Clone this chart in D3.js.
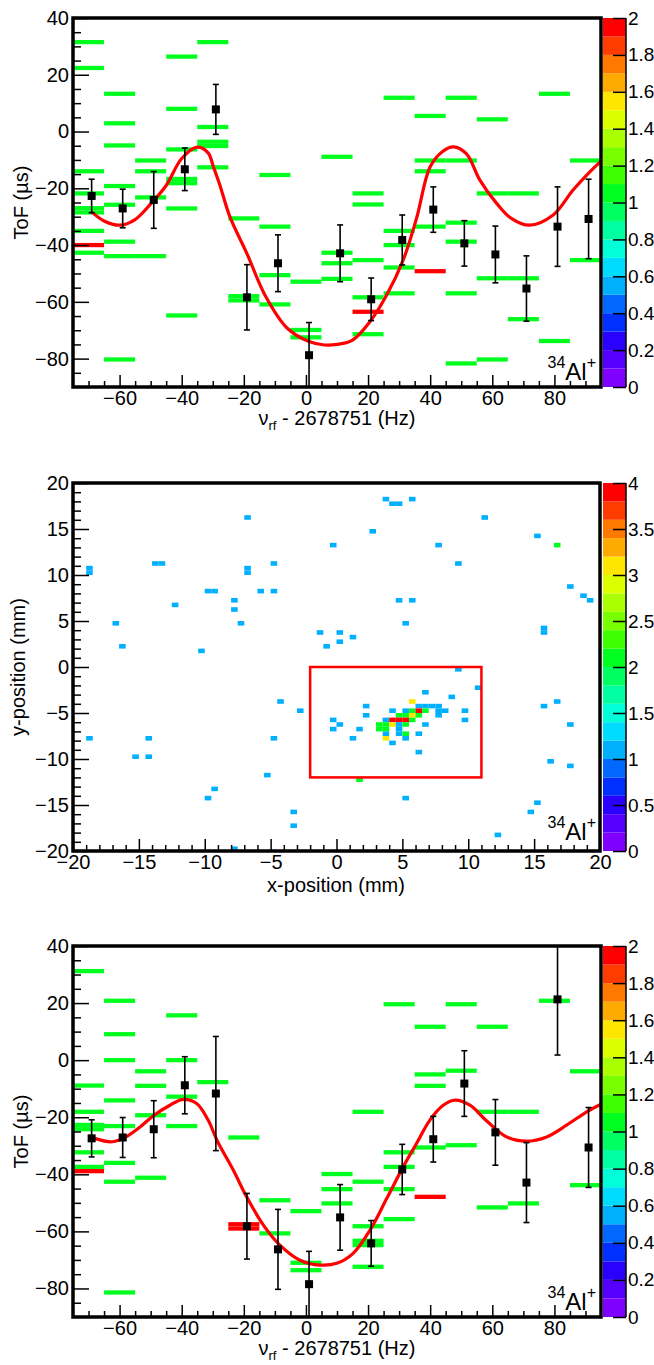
<!DOCTYPE html>
<html>
<head>
<meta charset="utf-8">
<script src="https://cdn.jsdelivr.net/npm/d3@7"></script>
<style>
  body { margin: 0; background: #fff; }
  text { font-family: "Liberation Sans", Arial, sans-serif; fill: #000; }
</style>
</head>
<body>
<svg id="chart" width="654" height="1365"></svg>
<script>
// ---- colour palette (20 contour levels, bottom to top)
var palette = ['#7f00ff','#5500ff','#2a00ff','#0030ff','#0068ff','#00b0ff','#00dcff','#00ffd8','#00ffa0','#00ff60',
               '#00ff1e','#3cff00','#78ff00','#aaff00','#dcff00','#ffe600','#ffaa00','#ff7800','#ff3c00','#ff0000'];

// ---- ToF resonance panels: 10 Hz bins, each with its list of ToF cells (z = 1)
var binCentres = [-70,-60,-50,-40,-30,-20,-10,0,10,20,30,40,50,60,70,80,90];

var topGreen = [
  [31.5,22.4,-14,-21.8,-27,-28.5,-35,-42.7],
  [13.3,2.9,-4.9,-19.2,-25.8,-38.8,-43.9,-80.3],
  [-10.2,-14,-23.2,-43.9],
  [26.4,8,-6.3,-16.7,-18.2,-27.1,-64.8],
  [31.5,1.6,-3.6,-5.1,-12.6],
  [-30.6,-58,-59.5],
  [-15.3,-33.5,-50.6,-60.9],
  [-52.9,-69.9,-72.5],
  [-8.9,-42.7,-46.4,-51.9],
  [-21.8,-25.7,-45.3,-58.4,-71.4],
  [11.9,-35,-40,-47.9,-57],
  [5.5,-10.2,-14,-33.5],
  [11.9,-10.2,-32.1,-38.8,-57,-81.7],
  [4.3,-21.8,-51.7,-80.3],
  [-21.8,-51.7,-66.1],
  [13.3,-73.8],
  [-10.2,-45.3]
];
var topRed = [[-70,-40],[20,-63.5],[40,-49.2]];   // z = 2

var botGreen = [
  [31.2,-8.9,-18.1,-22.7,-24.2,-32.3,-37.4],
  [20.8,9.1,0,-14.1,-23.1,-36,-42.6,-81.4],
  [-3.9,-9,-19.3,-41.2],
  [15.7,0,-12.8,-23.1],
  [-7.7],
  [-27.1],
  [-49.1,-60.7],
  [-52.9,-71,-73.6],
  [-39.9,-45.2,-50.2],
  [-18.1,-42.6,-58.2,-63.3,-64.8,-72.4],
  [19.6,-32.3,-37.4,-45.2,-55.7],
  [11.7,-5,-9,-30.6],
  [19.6,-3.7,-29.8],
  [11.7,-18.1,-51.6],
  [-18.1,-50.2],
  [20.8],
  [-3.9,-43.8]
];
var botRed = [[-70,-38.9],[-20,-57.5],[-20,-59],[40,-47.9]];

// mean ToF per frequency step
var pointNu = [-69,-59,-49,-39,-29,-19,-9,1,11,21,31,41,51,61,71,81,91];
var topTof = [-22.7,-27.1,-24.1,-13.3,7.8,-58.4,-46.4,-78.8,-42.9,-59.1,-38.2,-27.5,-39.4,-43.3,-55.3,-33.5,-30.8];
var topErr = [5.9,6.8,10,7.5,8.8,11.5,10,11.5,10,7.5,8.8,8,8,10,11.5,14,14];
var botTof = [-27.4,-27.1,-24.2,-8.8,-11.7,-58.2,-66.3,-78.5,-55.1,-64.2,-38.3,-27.7,-8.2,-25.3,-42.9,21.3,-30.6];
var botErr = [6.5,7,10,10,20,11.5,14,11.5,11.5,8,8.8,8,11.5,11.5,14,19.5,14];

// fitted line shape
var topFitNu  = [-69,-65,-60,-55,-50,-45,-40,-35,-31.5,-29.8,-27.7,-24.5,-19,-13,-6,1,6,10,15,20.6,26,31.3,35.6,40,44,47.5,51.7,56,61.4,66,72,79.6,86,91.4,95];
var topFitTof = [-28.3,-31.5,-33,-31,-25.5,-19,-9.5,-5.5,-7.5,-12.4,-18.9,-30,-43,-58,-69.3,-74,-75.2,-75,-73.5,-67,-57.6,-45.3,-30.6,-12.4,-7,-5.4,-7.9,-17.1,-25.3,-30.5,-33,-29.4,-20.6,-14.2,-10.4];
var botFitNu  = [-68,-62.6,-58.8,-53.4,-48.9,-43.8,-39.8,-35.2,-31.5,-28.5,-23.4,-19.1,-13.7,-8.4,-1.9,4.5,9.9,15.2,20.6,26,31.3,35.6,39.9,44.2,48,52.8,58.2,64.6,71.1,77.5,83.9,90.4,95];
var botFitTof = [-27.4,-28.6,-27.4,-23.4,-19.3,-15.8,-13.8,-15.2,-21,-28.4,-38.5,-47.9,-57.8,-64.8,-70.1,-71.8,-71.2,-67.7,-59.6,-48.5,-37.4,-29.2,-21,-15.8,-14,-15.8,-21.3,-26.9,-28.4,-26.9,-22.8,-18.1,-15.4];

// ---- position panel: [x mm, y mm, counts]
var posCells = [
  [-18.75,10.75,1],[-18.75,10.25,1],[-16.75,4.75,1],[-16.25,2.25,1],[-13.75,11.25,1],[-13.25,11.25,1],
  [-12.25,6.75,1],[-10.25,1.75,1],[-9.75,8.25,1],[-9.25,8.25,1],[-7.75,7.25,1],[-7.75,6.25,1],
  [-7.25,4.75,1],[-6.75,16.25,1],[-6.75,10.75,1],[-6.75,10.25,1],[-5.75,8.25,1],[-4.75,11.25,1],
  [-4.75,8.25,1],[-1.25,3.75,1],[-0.75,2.25,1],
  [3.75,18.25,1],[4.25,17.75,1],[4.75,17.75,1],[5.75,18.25,1],[11.25,16.25,1],[2.75,14.75,1],
  [15.25,14.25,1],[16.75,13.25,2],[-0.25,13.25,1],[7.75,13.25,1],[9.25,11.25,1],[17.75,8.75,1],
  [18.75,7.75,1],[19.25,7.25,1],[4.75,7.25,1],[5.75,7.25,1],[5.25,4.75,1],[0.25,3.75,1],
  [0.25,2.75,1],[1.25,3.25,1],[15.75,4.25,1],[15.75,3.75,1],[9.25,-0.25,1],
  [-18.75,-7.75,1],[-15.25,-9.75,1],[-14.25,-9.75,1],[-14.25,-7.75,1],[-9.75,-14.25,1],[-9.25,-13.25,1],
  [-7.75,-19.75,1],[-5.25,-11.75,1],[-4.75,-7.75,1],[-4.25,-3.75,1],[-2.75,-4.75,1],
  [-3.25,-15.75,1],[-3.25,-17.25,1],
  [10.75,-2.25,1],[6.75,-2.75,1],[8.75,-3.25,1],[5.75,-3.75,3],[2.25,-4.25,1],[2.25,-5.25,1],
  [-0.25,-5.75,1],[0.25,-6.25,1],[-0.25,-6.75,1],[1.75,-6.75,1],[1.25,-7.75,1],
  [4.25,-4.75,1],[5.25,-4.75,1],[6.25,-4.25,1],[6.75,-4.25,1],[7.25,-4.25,1],[7.75,-4.25,1],
  [5.75,-4.75,2],[6.25,-4.75,4],[6.75,-4.75,2],[7.75,-4.75,1],[8.25,-4.75,1],[7.75,-5.25,1],
  [9.75,-4.75,1],[9.75,-5.75,1],
  [4.75,-5.25,2],[5.25,-5.25,2],[5.75,-5.25,3],[6.25,-5.25,2],
  [3.75,-5.75,1],[4.25,-5.75,4],[4.75,-5.75,4],[5.25,-5.75,4],[5.75,-5.75,2],
  [3.25,-6.25,2],[3.75,-6.25,2],[4.25,-6.25,3],[4.75,-6.25,1],[5.25,-6.25,2],[6.75,-6.25,1],
  [3.25,-6.75,2],[3.75,-6.75,2],[4.75,-6.75,1],
  [3.75,-7.25,1],[4.75,-7.25,1],[5.25,-7.25,2],[6.25,-7.25,1],[3.75,-7.75,3],[5.25,-7.75,1],
  [4.25,-8.25,1],[6.25,-9.25,1],[1.75,-12.25,2],[5.25,-14.25,1],
  [15.75,-4.25,1],[16.75,-3.75,1],[17.75,-6.25,1],[16.25,-10.25,1],[17.75,-10.75,1],
  [15.25,-14.75,1],[14.75,-15.75,1],[12.25,-18.25,1]
];
var boxX = [-2, 11], boxY = [-12, 0];

var tofBin = 1.5, posBin = 0.5;
var svg = d3.select('#chart');

function cleanAxis(g, size){
  g.select('.domain').remove();
  g.attr('font-size', null).attr('font-family', null);
  g.selectAll('text').attr('font-size', size);
  g.selectAll('line').attr('stroke-width', 1.5);
}

function colourBar(top, bottom, max, step){
  var y = d3.scaleLinear().domain([0, max]).range([bottom, top]);
  var n = palette.length;
  var cb = svg.append('g');
  cb.selectAll('rect').data(palette).join('rect')
    .attr('x', 603).attr('width', 23)
    .attr('y', (d,i) => y((i+1)*max/n))
    .attr('height', (d,i) => y(i*max/n) - y((i+1)*max/n))
    .attr('fill', d => d);
  cb.append('g').attr('transform', 'translate(626,0)')
    .call(d3.axisRight(y).tickValues(d3.range(0, max + step/2, step)).tickSize(-13).tickPadding(2).tickFormat(d3.format('~g')))
    .call(g => cleanAxis(g, 19));
  cb.append('line').attr('x1', 626).attr('x2', 626).attr('y1', top).attr('y2', bottom)
    .attr('stroke', '#000').attr('stroke-width', 1.5);
}

function isotope(xr, base){
  var t = svg.append('text').attr('x', xr).attr('y', base).attr('text-anchor', 'end');
  t.append('tspan').attr('font-size', 16).attr('dy', -12).text('34');
  t.append('tspan').attr('font-size', 24).attr('dy', 12).text('Al');
  t.append('tspan').attr('font-size', 16).attr('dy', -12).text('+');
}

function tofPanel(p){
  var x = d3.scaleLinear().domain([-75, 95]).range([73, 601]);
  var y = d3.scaleLinear().domain([-90, 40]).range([p.bottom, p.top]);
  var col = d3.scaleQuantize().domain([0, 2]).range(palette);
  var g = svg.append('g');

  var cells = [];
  binCentres.forEach((c, i) => p.green[i].forEach(t => cells.push({nu: c, tof: t, z: 1})));
  p.red.forEach(d => cells.push({nu: d[0], tof: d[1], z: 2}));
  g.selectAll('rect.cell').data(cells).join('rect').attr('class', 'cell')
    .attr('x', d => x(d.nu - 5)).attr('width', d => x(d.nu + 5) - x(d.nu - 5))
    .attr('y', d => y(d.tof + tofBin/2)).attr('height', d => y(d.tof - tofBin/2) - y(d.tof + tofBin/2))
    .attr('fill', d => col(d.z));

  var clipId = 'clip' + p.top;
  svg.append('clipPath').attr('id', clipId).append('rect')
    .attr('x', 73).attr('y', p.top).attr('width', 528).attr('height', p.bottom - p.top);

  var line = d3.line().x(d => x(d[0])).y(d => y(d[1])).curve(d3.curveCatmullRom);
  g.append('path').datum(d3.zip(p.fitNu, p.fitTof))
    .attr('d', line).attr('fill', 'none').attr('stroke', '#ff0000').attr('stroke-width', 3.2)
    .attr('clip-path', 'url(#' + clipId + ')');

  var pts = pointNu.map((nu, i) => ({nu: nu, tof: p.tof[i], err: p.err[i]}));
  var eg = g.append('g').attr('clip-path', 'url(#' + clipId + ')').attr('stroke', '#000').attr('stroke-width', 1.6);
  eg.selectAll('line.bar').data(pts).join('line')
    .attr('x1', d => x(d.nu)).attr('x2', d => x(d.nu))
    .attr('y1', d => y(d.tof + d.err)).attr('y2', d => y(d.tof - d.err));
  eg.selectAll('line.capt').data(pts).join('line').attr('class', 'capt')
    .attr('x1', d => x(d.nu) - 3).attr('x2', d => x(d.nu) + 3)
    .attr('y1', d => y(d.tof + d.err)).attr('y2', d => y(d.tof + d.err));
  eg.selectAll('line.capb').data(pts).join('line').attr('class', 'capb')
    .attr('x1', d => x(d.nu) - 3).attr('x2', d => x(d.nu) + 3)
    .attr('y1', d => y(d.tof - d.err)).attr('y2', d => y(d.tof - d.err));
  g.selectAll('rect.pt').data(pts).join('rect').attr('class', 'pt')
    .attr('x', d => x(d.nu) - 4).attr('y', d => y(d.tof) - 4)
    .attr('width', 8).attr('height', 8).attr('fill', '#000');

  // axes, ticks inside the frame
  g.append('g').attr('transform', 'translate(0,' + p.bottom + ')')
    .call(d3.axisBottom(x).tickValues(d3.range(-60, 95, 20)).tickSize(-12).tickPadding(4).tickFormat(d3.format('d')))
    .call(a => cleanAxis(a, 20));
  g.append('g').attr('transform', 'translate(0,' + p.bottom + ')')
    .call(d3.axisBottom(x).tickValues(d3.range(-70, 95, 5).filter(v => v % 20)).tickSize(-6).tickFormat(''))
    .call(a => cleanAxis(a, 20));
  g.append('g').attr('transform', 'translate(73,0)')
    .call(d3.axisLeft(y).tickValues(d3.range(-80, 41, 20)).tickSize(-16).tickPadding(4).tickFormat(d3.format('d')))
    .call(a => cleanAxis(a, 20));
  g.append('g').attr('transform', 'translate(73,0)')
    .call(d3.axisLeft(y).tickValues(d3.range(-85, 40, 5).filter(v => v % 20)).tickSize(-8).tickFormat(''))
    .call(a => cleanAxis(a, 20));

  g.append('rect').attr('x', 73).attr('y', p.top).attr('width', 528).attr('height', p.bottom - p.top)
    .attr('fill', 'none').attr('stroke', '#000').attr('stroke-width', 3.5);

  var xt = g.append('text').attr('x', 337).attr('y', p.bottom + 38).attr('text-anchor', 'middle').attr('font-size', 20);
  xt.append('tspan').text('ν');
  xt.append('tspan').attr('font-size', 13).attr('dy', 5).text('rf');
  xt.append('tspan').attr('dy', -5).text(' - 2678751 (Hz)');
  g.append('text').attr('transform', 'translate(28,' + ((p.top + p.bottom) / 2) + ') rotate(-90)')
    .attr('text-anchor', 'middle').attr('font-size', 20).text('ToF (µs)');

  colourBar(p.top, p.bottom, 2, 0.2);
  isotope(596, p.bottom - 7);
}

function posPanel(){
  var top = 483, bottom = 851;
  var x = d3.scaleLinear().domain([-20, 20]).range([73, 600]);
  var y = d3.scaleLinear().domain([-20, 20]).range([bottom, top]);
  var col = d3.scaleQuantize().domain([0, 4]).range(palette);
  var g = svg.append('g');

  g.selectAll('rect.cell').data(posCells).join('rect').attr('class', 'cell')
    .attr('x', d => x(d[0] - posBin/2)).attr('width', d => x(d[0] + posBin/2) - x(d[0] - posBin/2))
    .attr('y', d => y(d[1] + posBin/2)).attr('height', d => y(d[1] - posBin/2) - y(d[1] + posBin/2))
    .attr('fill', d => col(d[2]));

  g.append('rect').attr('x', x(boxX[0])).attr('y', y(boxY[1]))
    .attr('width', x(boxX[1]) - x(boxX[0])).attr('height', y(boxY[0]) - y(boxY[1]))
    .attr('fill', 'none').attr('stroke', '#ff0000').attr('stroke-width', 2.5);

  g.append('g').attr('transform', 'translate(0,' + bottom + ')')
    .call(d3.axisBottom(x).tickValues(d3.range(-20, 21, 5)).tickSize(-12).tickPadding(4).tickFormat(d3.format('d')))
    .call(a => cleanAxis(a, 20));
  g.append('g').attr('transform', 'translate(0,' + bottom + ')')
    .call(d3.axisBottom(x).tickValues(d3.range(-19, 20, 1).filter(v => v % 5)).tickSize(-6).tickFormat(''))
    .call(a => cleanAxis(a, 20));
  g.append('g').attr('transform', 'translate(73,0)')
    .call(d3.axisLeft(y).tickValues(d3.range(-20, 21, 5)).tickSize(-16).tickPadding(4).tickFormat(d3.format('d')))
    .call(a => cleanAxis(a, 20));
  g.append('g').attr('transform', 'translate(73,0)')
    .call(d3.axisLeft(y).tickValues(d3.range(-19, 20, 1).filter(v => v % 5)).tickSize(-8).tickFormat(''))
    .call(a => cleanAxis(a, 20));

  g.append('rect').attr('x', 73).attr('y', top).attr('width', 527).attr('height', bottom - top)
    .attr('fill', 'none').attr('stroke', '#000').attr('stroke-width', 3.5);

  g.append('text').attr('x', 336).attr('y', bottom + 41).attr('text-anchor', 'middle').attr('font-size', 20)
    .text('x-position (mm)');
  g.append('text').attr('transform', 'translate(25,' + ((top + bottom) / 2) + ') rotate(-90)')
    .attr('text-anchor', 'middle').attr('font-size', 20).text('y-position (mm)');

  colourBar(top, bottom, 4, 0.5);
  isotope(596, 840);
}

tofPanel({top: 18, bottom: 387, green: topGreen, red: topRed, tof: topTof, err: topErr, fitNu: topFitNu, fitTof: topFitTof});
posPanel();
tofPanel({top: 946, bottom: 1317, green: botGreen, red: botRed, tof: botTof, err: botErr, fitNu: botFitNu, fitTof: botFitTof});
</script>
</body>
</html>
